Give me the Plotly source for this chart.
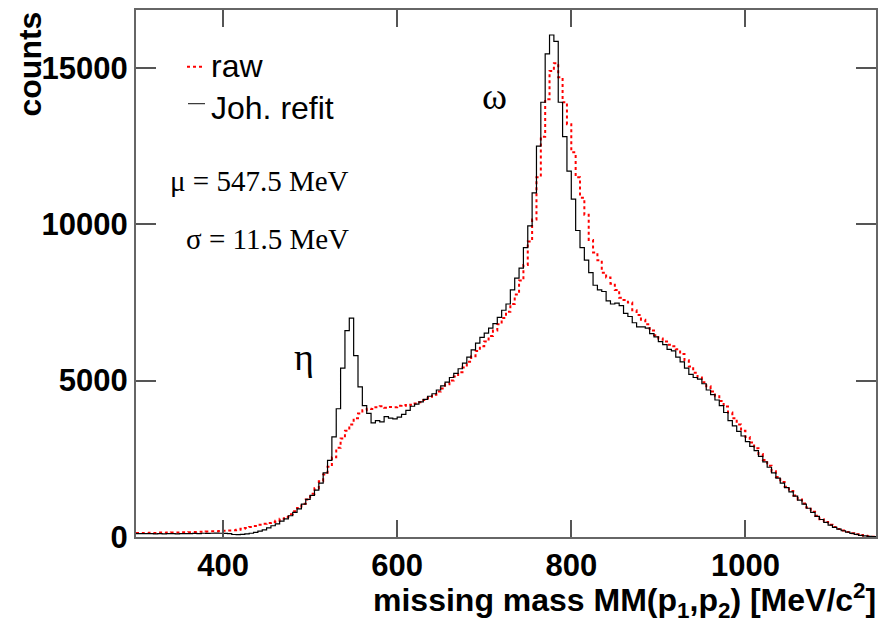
import plotly.graph_objects as go

# ---------------- data ----------------
bin_low = 300          # MeV/c^2, lower edge of first bin
bin_width = 5          # MeV/c^2

# "raw" histogram (red dotted)
raw_counts = [
    130, 125, 130, 135, 130, 140, 135, 140, 145, 140,
    150, 150, 155, 160, 165, 170, 175, 180, 185, 190,
    200, 210, 215, 230, 260, 290, 320, 350, 390, 420,
    450, 480, 520, 580, 640, 730, 820, 930, 1060, 1200,
    1380, 1560, 1780, 2000, 2250, 2550, 2850, 3150, 3400, 3600,
    3800, 3950, 4050, 4100, 4090, 4150, 4180, 4130, 4160, 4150,
    4200, 4220, 4200, 4230, 4270, 4310, 4380, 4450, 4550, 4650,
    4750, 4880, 5000, 5130, 5270, 5420, 5600, 5780, 5950, 6100,
    6250, 6430, 6600, 6800, 7000, 7200, 7450, 7750, 8200, 8700,
    9450, 10150, 11500, 12800, 14000, 14900, 15150, 14700, 13900, 13200,
    12300, 11500, 10850, 10300, 9500, 9100, 8850, 8450, 8300, 8100,
    7900, 7650, 7580, 7500, 7250, 7100, 6950, 6800, 6600, 6450,
    6350, 6250, 6150, 6100, 6000, 5850, 5650, 5450, 5250, 5100,
    4950, 4820, 4650, 4500, 4350, 4170, 3980, 3800, 3600, 3400,
    3200, 3020, 2840, 2650, 2460, 2280, 2100, 1920, 1760, 1610,
    1470, 1330, 1200, 1070, 940, 810, 680, 570, 480, 390,
    320, 255, 205, 160, 120, 90, 60, 40, 22, 10,
]

# "Joh. refit" histogram (black solid)
refit_counts = [
    110, 105, 110, 105, 100, 105, 100, 110, 105, 100,
    110, 105, 110, 115, 110, 120, 115, 120, 125, 120,
    115, 105, 80, 75, 85, 100, 120, 150, 190, 230,
    290, 360, 420, 510, 580, 680, 790, 900, 1050, 1200,
    1330, 1500, 1720, 2050, 2450, 3200, 4100, 5400, 6600, 7000,
    5800, 4800, 4200, 3950, 3650, 3720, 3680, 3850, 3800, 3780,
    3830, 3920, 4050, 4180, 4250, 4320, 4400, 4500, 4580, 4700,
    4830, 4950, 5100, 5230, 5380, 5560, 5750, 5980, 6200, 6380,
    6520, 6680, 6820, 7020, 7250, 7450, 7900, 8280, 8600, 9250,
    9950, 11000, 12500, 13900, 15450, 16050, 15850, 13900, 12800, 11700,
    10800, 9800, 9250, 8850, 8450, 8050, 7900, 7850, 7550, 7450,
    7480, 7400, 7150, 7050, 6850, 6720, 6720, 6680, 6500, 6400,
    6250, 6150, 6000, 5950, 5750, 5600, 5400, 5200, 5100, 5050,
    4900, 4700, 4550, 4380, 4200, 3980, 3720, 3550, 3380, 3230,
    3050, 2900, 2760, 2580, 2400, 2230, 2050, 1880, 1720, 1580,
    1440, 1310, 1180, 1050, 920, 790, 660, 560, 470, 380,
    310, 250, 200, 155, 115, 85, 55, 35, 20, 10,
]

x_range = [300, 1150]
y_range = [0, 16850]
x_tickvals = [400, 600, 800, 1000]
x_ticktext = ["400", "600", "800", "1000"]
y_tickvals = [0, 5000, 10000, 15000]
y_ticktext = ["0", "5000", "10000", "15000"]

series_names = ["raw", "Joh. refit"]
fit_labels = ["\u03bc = 547.5 MeV", "\u03c3 = 11.5 MeV"]
peak_labels = ["\u03c9", "\u03b7"]

# ---------------- figure ----------------
W, H = 891, 630
ML, MR, MT, MB = 136, 15, 8, 93
PW, PH = W - ML - MR, H - MT - MB


def px(x):
    return (x - ML) / PW


def py(y):
    return (H - MB - y) / PH


edges = [bin_low + bin_width * i for i in range(len(raw_counts) + 1)]

fig = go.Figure()
fig.add_trace(go.Scatter(
    x=edges, y=raw_counts + [raw_counts[-1]], mode="lines",
    line=dict(color="#ff0000", width=2, dash="dot", shape="hv"),
    name=series_names[0], showlegend=False))
fig.add_trace(go.Scatter(
    x=edges, y=refit_counts + [refit_counts[-1]], mode="lines",
    line=dict(color="#000000", width=1.2, shape="hv"),
    name=series_names[1], showlegend=False))

tickfont = dict(family="Liberation Sans, Arial, sans-serif", size=31,
                color="black", weight="bold")
axis_common = dict(showgrid=False, zeroline=False, showline=True,
                   linecolor="#666666", linewidth=2, mirror="ticks",
                   ticks="inside", tickcolor="#555555", tickwidth=1.5,
                   tickfont=tickfont)

fig.update_xaxes(range=x_range, tickvals=x_tickvals, ticktext=x_ticktext,
                 ticklen=17, **axis_common)
fig.update_yaxes(range=y_range, tickvals=y_tickvals, ticktext=y_ticktext,
                 ticklen=20, **axis_common)

ann = []
boldfont = dict(family="Liberation Sans, Arial, sans-serif", size=32,
                color="black", weight="bold")
# axis titles
ann.append(dict(text="missing mass MM(p<sub>1</sub>,p<sub>2</sub>) [MeV/c<sup>2</sup>]",
                xref="paper", yref="paper", x=px(878), y=py(601),
                xanchor="right", yanchor="middle", showarrow=False,
                font=boldfont))
ann.append(dict(text="counts", textangle=-90,
                xref="paper", yref="paper", x=px(29), y=py(8),
                xanchor="center", yanchor="top", showarrow=False,
                font=boldfont))
# legend texts
legfont = dict(family="Liberation Sans, Arial, sans-serif", size=32, color="black")
ann.append(dict(text=series_names[0], xref="paper", yref="paper",
                x=px(209), y=py(64), xanchor="left", yanchor="middle",
                showarrow=False, font=legfont))
ann.append(dict(text=series_names[1], xref="paper", yref="paper",
                x=px(209), y=py(106), xanchor="left", yanchor="middle",
                showarrow=False, font=legfont))
# fit results
serif = dict(family="Liberation Serif, Times New Roman, serif", size=29, color="black")
ann.append(dict(text=fit_labels[0], xref="paper", yref="paper",
                x=px(351), y=py(180), xanchor="right", yanchor="middle",
                showarrow=False, font=serif))
ann.append(dict(text=fit_labels[1], xref="paper", yref="paper",
                x=px(351), y=py(238), xanchor="right", yanchor="middle",
                showarrow=False, font=serif))
# peak labels
greek = dict(family="Liberation Serif, Times New Roman, serif", size=38, color="black")
ann.append(dict(text=peak_labels[0], xref="paper", yref="paper",
                x=px(494), y=py(94), xanchor="center", yanchor="middle",
                showarrow=False, font=greek))
ann.append(dict(text=peak_labels[1], xref="paper", yref="paper",
                x=px(304), y=py(356), xanchor="center", yanchor="middle",
                showarrow=False, font=greek))

shapes = [
    dict(type="line", xref="paper", yref="paper", x0=px(187), x1=px(205),
         y0=py(65), y1=py(65), line=dict(color="#ff0000", width=2, dash="dot")),
    dict(type="line", xref="paper", yref="paper", x0=px(188), x1=px(205),
         y0=py(102), y1=py(102), line=dict(color="#333333", width=1.2)),
]

fig.update_layout(width=W, height=H,
                  margin=dict(l=ML, r=MR, t=MT, b=MB, pad=0),
                  paper_bgcolor="white", plot_bgcolor="white",
                  annotations=ann, shapes=shapes, showlegend=False)

fig.write_html("out.html")
